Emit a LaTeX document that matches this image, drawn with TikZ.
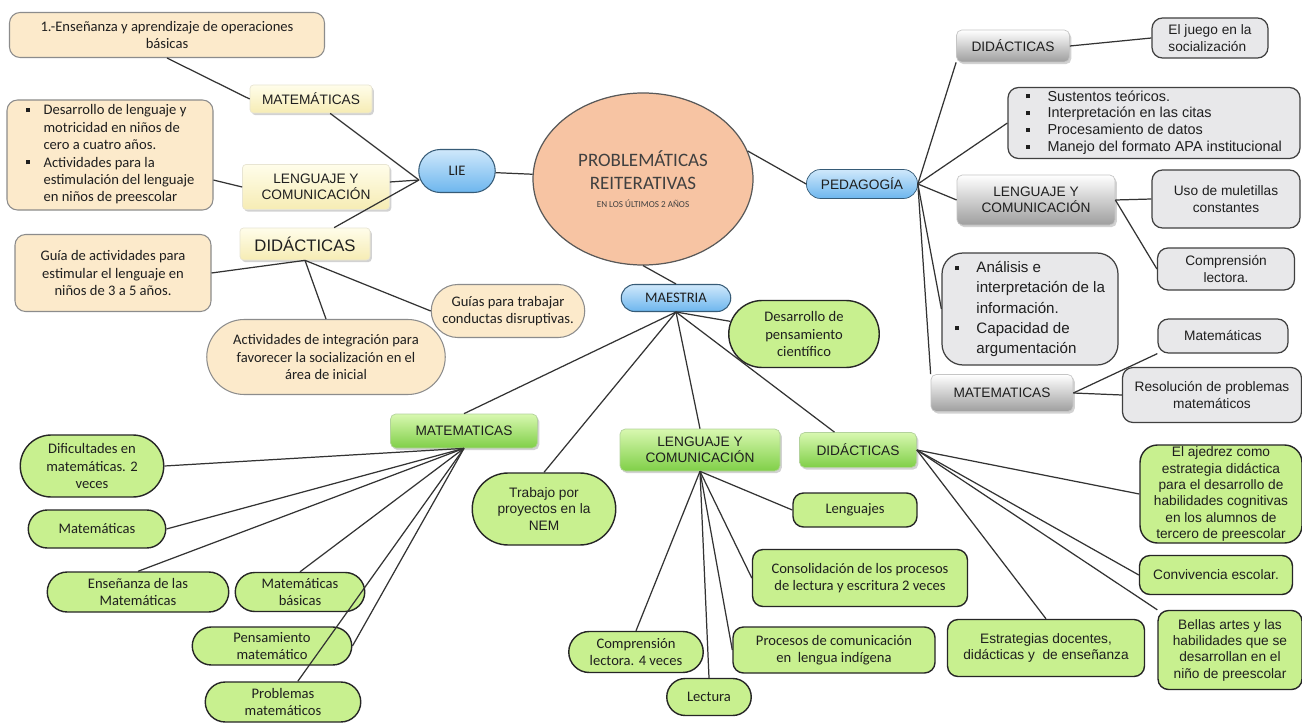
\documentclass[tikz,border=0pt]{standalone}
\usepackage{fontspec}
\setmainfont{Carlito}
\newfontfamily\arialf{Liberation Sans}
\usetikzlibrary{shapes.geometric,shapes.misc,shadows}

\definecolor{crema}{HTML}{FCEACB}
\definecolor{amarA}{HTML}{FFFDEA}
\definecolor{amarB}{HTML}{F6ECB4}
\definecolor{azulA}{HTML}{CFE8FB}
\definecolor{azulB}{HTML}{6DB6EE}
\definecolor{verde}{HTML}{C8F08F}
\definecolor{verdeA}{HTML}{D8F8B0}
\definecolor{verdeB}{HTML}{80CF48}
\definecolor{grisB}{HTML}{9E9E9E}
\definecolor{gris}{HTML}{E8E8EA}
\definecolor{salmon}{HTML}{F7C4A3}

% 小方块项目符号
\newcommand\vineta{\raisebox{1.6pt}{\rule{2.2pt}{2.2pt}}}

\tikzset{
	sz/.style 2 args={minimum width=#1*0.02cm, minimum height=#2*0.02cm},
	texto/.style={align=center, inner sep=1pt, text=black!88,
		font=\fontsize{8.3}{9.9}\selectfont},
	arial/.style={font=\arialf\fontsize{7.8}{9.3}\selectfont},
	sombra/.style={drop shadow={opacity=0.35, shadow xshift=1pt, shadow yshift=-1.2pt}},
	linea/.style={draw=black!80, line width=0.7pt},
	% 各类方框
	cremabox/.style={texto, draw=black!45, fill=crema, rounded corners=6pt, line width=0.6pt},
	cremapill/.style={texto, rounded rectangle, draw=black!45, fill=crema, line width=0.6pt},
	amarbox/.style={texto, arial, top color=amarA, bottom color=amarB, draw=amarB!80!black!40,
		rounded corners=2pt, sombra},
	azulbox/.style={texto, rounded rectangle, top color=azulA, bottom color=azulB,
		draw=azulB!50!black, line width=0.6pt},
	verdetit/.style={texto, arial, top color=verdeA, bottom color=verdeB, draw=verdeB!80!black!50,
		rounded corners=3pt, sombra},
	verdebox/.style={texto, fill=verde, draw=black!85, rounded corners=6pt, line width=0.8pt},
	verdepill/.style={texto, rounded rectangle, fill=verde, draw=black!85, line width=0.8pt},
	gristit/.style={texto, arial, top color=white, bottom color=grisB, draw=grisB!70!black!40,
		rounded corners=3pt, sombra},
	grisbox/.style={texto, arial, fill=gris, draw=black!75, rounded corners=6pt, line width=0.7pt},
}

\begin{document}
\begin{tikzpicture}[x=0.02cm, y=-0.02cm]
	\useasboundingbox[fill=white] (0,0) rectangle (1302,723);

	% 中心椭圆
	\node[ellipse, sz={220}{172}, fill=salmon, draw=black!65, line width=0.7pt, inner sep=0pt,
		align=center, text=black!75, font=\fontsize{10.8}{13.2}\selectfont] (centro) at (643,179)
		{PROBLEMÁTICAS\\REITERATIVAS\\[-3pt]{\fontsize{5.2}{6}\selectfont EN LOS ÚLTIMOS 2 AÑOS}};

	% LIE
	\node[azulbox, sz={80}{43}] (lie) at (457,171) {LIE};
	\node[amarbox, sz={122}{28}] (liemat) at (311,99) {MATEMÁTICAS};
	\node[amarbox, sz={147}{45}] (lieleng) at (316,187) {LENGUAJE Y\\COMUNICACIÓN};
	\node[amarbox, sz={130}{32}, font=\arialf\fontsize{9.5}{11}\selectfont] (liedid) at (305,244) {DIDÁCTICAS};
	\node[cremabox, sz={315}{45}] (operaciones) at (167,35)
		{1.-Enseñanza y aprendizaje de operaciones\\básicas};
	\node[cremabox, sz={206}{110}] (motricidad) at (110,155) {%
		\begin{tabular}{@{}l@{\hspace{8pt}}l@{}}
			\vineta & Desarrollo de lenguaje y\\
			& motricidad en niños de\\
			& cero a cuatro años.\\
			\vineta & Actividades para la\\
			& estimulación del lenguaje\\
			& en niños de preescolar
		\end{tabular}};
	\node[cremabox, sz={196}{77}] (guia) at (113,273)
		{Guía de actividades para\\estimular el lenguaje en\\niños de 3 a 5 años.};
	\node[cremapill, sz={242}{75}] (integracion) at (326,357)
		{Actividades de integración para\\favorecer la socialización en el\\área de inicial};
	\node[cremapill, sz={157}{53}] (conductas) at (508,311)
		{Guías para trabajar\\conductas disruptivas.};

	\coordinate (liehub) at (419,180);
	\draw[linea] (lie) -- (centro);
	\draw[linea] (liehub) -- (liemat);
	\draw[linea] (liehub) -- (lieleng);
	\draw[linea] (liehub) -- (liedid);
	\draw[linea] (liemat.west) -- (operaciones.south);
	\draw[linea] (lieleng.west) -- (motricidad);
	\draw[linea] (liedid.south) -- (guia.east);
	\draw[linea] (liedid.south) -- (integracion.north);
	\draw[linea] (liedid.south) -- (conductas.west);

	% PEDAGOGÍA
	\node[texto, arial, rounded corners=8pt, top color=azulA, bottom color=azulB,
		draw=azulB!50!black, sz={111}{29}] (pedagogia) at (862,184) {PEDAGOGÍA};
	\node[gristit, sz={113}{32}] (gdid) at (1013,46) {DIDÁCTICAS};
	\node[grisbox, sz={116}{40}, align=left] (juego) at (1210,38) {El juego en la\\socialización};
	\node[grisbox, sz={292}{70}, font=\arialf\fontsize{8.2}{9.6}\selectfont] (citas) at (1154,123) {%
		\begin{tabular}{@{}l@{\hspace{10pt}}l@{}}
			\vineta & Sustentos teóricos.\\
			\vineta & Interpretación en las citas\\
			\vineta & Procesamiento de datos\\
			\vineta & Manejo del formato APA institucional
		\end{tabular}};
	\node[gristit, sz={158}{50}] (gleng) at (1036,200) {LENGUAJE Y\\COMUNICACIÓN};
	\node[grisbox, sz={148}{58}] (muletillas) at (1226,199) {Uso de muletillas\\constantes};
	\node[grisbox, sz={137}{42}] (lectora) at (1226,269) {Comprensión\\lectora.};
	\node[grisbox, sz={176}{112}, rounded corners=12pt, font=\arialf\fontsize{8.6}{11.4}\selectfont]
		(analisis) at (1030,309) {%
		\begin{tabular}{@{}l@{\hspace{10pt}}l@{}}
			\vineta & Análisis e\\
			& interpretación de la\\
			& información.\\
			\vineta & Capacidad de\\
			& argumentación
		\end{tabular}};
	\node[gristit, sz={142}{37}] (gmat) at (1002,393) {MATEMATICAS};
	\node[grisbox, sz={130}{34}] (matematicas) at (1223,336) {Matemáticas};
	\node[grisbox, sz={179}{55}] (resolucion) at (1212,395) {Resolución de problemas\\matemáticos};

	\draw[linea] (centro.15) -- (pedagogia.west);
	\draw[linea] (pedagogia.east) -- (gdid.south west);
	\draw[linea] (pedagogia.east) -- (citas.west);
	\draw[linea] (pedagogia.east) -- (gleng.west);
	\draw[linea] (pedagogia.east) -- (analisis.west);
	\draw[linea] (pedagogia.east) -- (gmat.north west);
	\draw[linea] (gdid.east) -- (juego.west);
	\draw[linea] (gleng.east) -- (muletillas.west);
	\draw[linea] (gleng.east) -- (lectora.west);
	\draw[linea] (gmat.east) -- (matematicas.south west);
	\draw[linea] (gmat.east) -- (resolucion.west);

	% MAESTRIA
	\node[azulbox, sz={113}{27}] (maestria) at (676,298) {MAESTRIA};
	\node[verdepill, sz={154}{67}] (cientifico) at (804,334) {Desarrollo de\\pensamiento\\científico};
	\node[verdetit, sz={147}{34}] (vmat) at (464,431) {MATEMATICAS};
	\node[verdetit, sz={160}{42}] (vleng) at (700,450) {LENGUAJE Y\\COMUNICACIÓN};
	\node[verdetit, sz={117}{35}] (vdid) at (858,450) {DIDÁCTICAS};
	\node[verdepill, arial, sz={147}{72}] (proyectos) at (544,509) {Trabajo por\\proyectos en la\\NEM};

	\draw[linea] (centro.south) -- (maestria.north);
	\draw[linea] (maestria.south) -- (cientifico);
	\draw[linea] (maestria.south) -- (vmat.north);
	\draw[linea] (maestria.south) -- (proyectos.north);
	\draw[linea] (maestria.south) -- (vleng.north);
	\draw[linea] (maestria.south) -- (vdid);

	% 数学分支
	\node[verdepill, sz={147}{62}] (dificultades) at (92,466) {Dificultades en\\matemáticas. 2\\veces};
	\node[verdepill, sz={141}{38}] (mat1) at (97,529) {Matemáticas};
	\node[verdepill, sz={185}{40}] (ensenanza) at (138,592) {Enseñanza de las\\Matemáticas};
	\node[verdepill, sz={133}{39}] (basicas) at (300,592) {Matemáticas\\básicas};
	\node[verdepill, sz={163}{38}] (pensamiento) at (272,646) {Pensamiento\\matemático};
	\node[verdepill, sz={159}{40}] (problemas) at (283,702) {Problemas\\matemáticos};

	\draw[linea] (vmat.south) -- (dificultades.east);
	\draw[linea] (vmat.south) -- (mat1.east);
	\draw[linea] (vmat.south) -- (ensenanza.north);
	\draw[linea] (vmat.south) -- (basicas.north);
	\draw[linea] (vmat.south) -- (pensamiento.east);
	\draw[linea] (vmat.south) -- (problemas);

	% 语言分支
	\node[verdebox, sz={124}{34}] (lenguajes) at (855,510) {Lenguajes};
	\node[verdebox, sz={215}{57}] (consolidacion) at (860,578)
		{Consolidación de los procesos\\de lectura y escritura 2 veces};
	\node[verdebox, sz={202}{46}] (indigena) at (834,650) {Procesos de comunicación\\en~ lengua indígena};
	\node[verdepill, sz={138}{41}] (comprension) at (636,652) {Comprensión\\lectora. 4 veces};
	\node[verdepill, sz={88}{37}] (lectura) at (709,697) {Lectura};

	\draw[linea] (vleng.south) -- (lenguajes.west);
	\draw[linea] (vleng.south) -- (consolidacion.west);
	\draw[linea] (vleng.south) -- (indigena.west);
	\draw[linea] (vleng.south) -- (comprension.north);
	\draw[linea] (vleng.south) -- (lectura.north);

	% 教学法分支
	\node[verdebox, arial, sz={162}{98}, rounded corners=10pt] (ajedrez) at (1221,494)
		{El ajedrez como\\estrategia didáctica\\para el desarrollo de\\habilidades cognitivas\\en los alumnos de\\tercero de preescolar};
	\node[verdebox, arial, sz={153}{39}] (convivencia) at (1216,575) {Convivencia escolar.};
	\node[verdebox, arial, sz={144}{79}] (bellas) at (1230,650)
		{Bellas artes y las\\habilidades que se\\desarrollan en el\\niño de preescolar};
	\node[verdebox, arial, sz={197}{57}] (estrategias) at (1046,648)
		{Estrategias docentes,\\didácticas y~ de enseñanza};

	\draw[linea] (vdid.east) -- (ajedrez.west);
	\draw[linea] (vdid.east) -- (convivencia.west);
	\draw[linea] (vdid.east) -- (bellas.north west);
	\draw[linea] (vdid.east) -- (estrategias.north);
\end{tikzpicture}
\end{document}
